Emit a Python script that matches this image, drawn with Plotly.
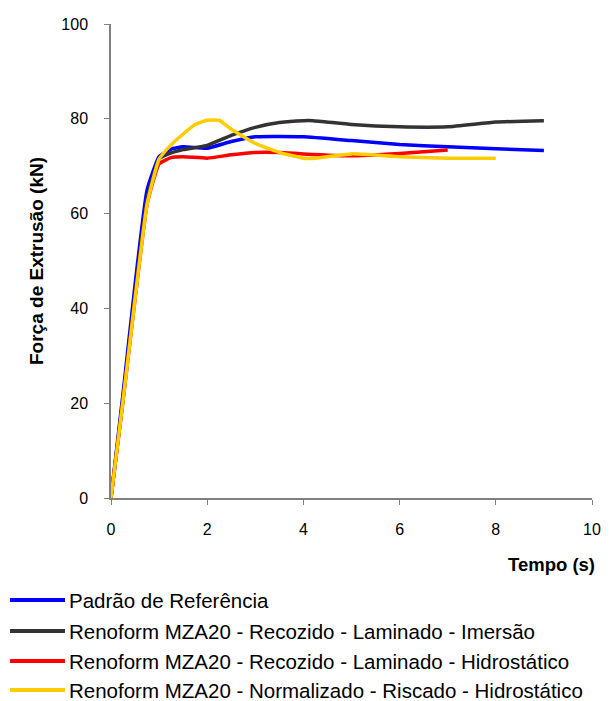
import plotly.graph_objects as go

# Data (time in s, force in kN)
t_blue = [0, 0.25, 0.5, 0.75, 1.0, 1.25, 1.5, 2.0, 2.5, 3.0, 4.0, 5.0, 6.0, 7.0, 8.0, 9.0]
f_blue = [0, 22, 45, 65, 72, 73.6, 74.1, 73.8, 75.2, 76.2, 76.2, 75.4, 74.6, 74.1, 73.7, 73.3]

t_black = [0, 0.25, 0.5, 0.75, 1.0, 1.25, 1.5, 2.0, 2.5, 3.0, 3.5, 4.0, 4.2, 5.0, 6.0, 7.0, 8.0, 9.0]
f_black = [0, 21, 43, 63, 71.5, 72.8, 73.5, 74.4, 76.5, 78.2, 79.2, 79.6, 79.6, 78.8, 78.3, 78.3, 79.3, 79.6]

t_red = [0, 0.25, 0.5, 0.75, 1.0, 1.25, 1.5, 2.0, 2.5, 3.0, 3.5, 4.0, 5.0, 6.0, 7.0]
f_red = [0, 20.5, 42, 62, 70.5, 71.8, 72.0, 71.7, 72.4, 72.9, 72.9, 72.6, 72.2, 72.7, 73.4]

t_yellow = [0, 0.25, 0.5, 0.75, 1.0, 1.25, 1.5, 1.75, 2.0, 2.25, 2.5, 3.0, 3.5, 4.0, 4.25, 5.0, 6.0, 7.0, 8.0]
f_yellow = [0, 20.5, 42, 62, 71.5, 74.5, 76.8, 78.8, 79.7, 79.7, 77.8, 74.8, 72.9, 71.7, 71.7, 72.6, 72.0, 71.7, 71.7]

names = [
    "Padrão de Referência",
    "Renoform MZA20 - Recozido - Laminado - Imersão",
    "Renoform MZA20 - Recozido - Laminado - Hidrostático",
    "Renoform MZA20 - Normalizado - Riscado - Hidrostático",
]
colors = ["#0000FF", "#333333", "#FF0000", "#FFCC00"]
series = [(t_blue, f_blue), (t_black, f_black), (t_red, f_red), (t_yellow, f_yellow)]

x_ticks = [0, 2, 4, 6, 8, 10]
y_ticks = [0, 20, 40, 60, 80, 100]

fig = go.Figure()
for (t, f), n, c in zip(series, names, colors):
    fig.add_trace(go.Scatter(x=t, y=f, mode="lines", name=n, showlegend=False,
                             line=dict(color=c, width=3.5, shape="spline", smoothing=0.4)))

# the page body adds an 8px margin, so the figure is drawn 8px smaller
OFF = 8
font_family = "Liberation Sans, Arial, sans-serif"
fig.update_layout(
    width=612 - OFF, height=701 - OFF,
    margin=dict(l=111 - OFF, r=20, t=24 - OFF, b=203, autoexpand=False),
    paper_bgcolor="white", plot_bgcolor="white",
    font=dict(family=font_family, size=16, color="black"),
    showlegend=False,
    xaxis=dict(range=[0, 10], tickvals=x_ticks, showgrid=False, zeroline=False,
               showline=True, linecolor="#808080", linewidth=1.5,
               ticks="outside", ticklen=5, tickcolor="#808080",
               tickfont=dict(size=16), ticklabelstandoff=11, automargin=False),
    yaxis=dict(range=[0, 100], tickvals=y_ticks, showgrid=False, zeroline=False,
               showline=True, linecolor="#808080", linewidth=1.5,
               ticks="outside", ticklen=5, tickcolor="#808080",
               tickfont=dict(size=16), ticklabelstandoff=13, automargin=False,
               title=dict(text="<b>Força de Extrusão (kN)</b>", font=dict(size=19), standoff=13)),
)

# Manual legend below the plot (positions in reference pixels)
plot_left, plot_w, plot_bottom, plot_h = 111, 481, 498, 474
legend_rows_px = [600, 631, 661, 690]
for n, c, py in zip(names, colors, legend_rows_px):
    yp = (plot_bottom - py) / plot_h
    fig.add_shape(type="line", xref="paper", yref="paper",
                  x0=(10 - plot_left) / plot_w, x1=(65 - plot_left) / plot_w, y0=yp, y1=yp,
                  line=dict(color=c, width=4))
    fig.add_annotation(text=n, xref="paper", yref="paper", x=(68 - plot_left) / plot_w, y=yp,
                       xanchor="left", yanchor="middle", showarrow=False,
                       font=dict(size=20.5), borderpad=0)

fig.add_annotation(text="<b>Tempo (s)</b>", xref="paper", yref="paper",
                   x=(597 - plot_left) / plot_w, y=(plot_bottom - 564) / plot_h,
                   xanchor="right", yanchor="middle", showarrow=False, font=dict(size=18.5))

fig.write_html("out.html")
